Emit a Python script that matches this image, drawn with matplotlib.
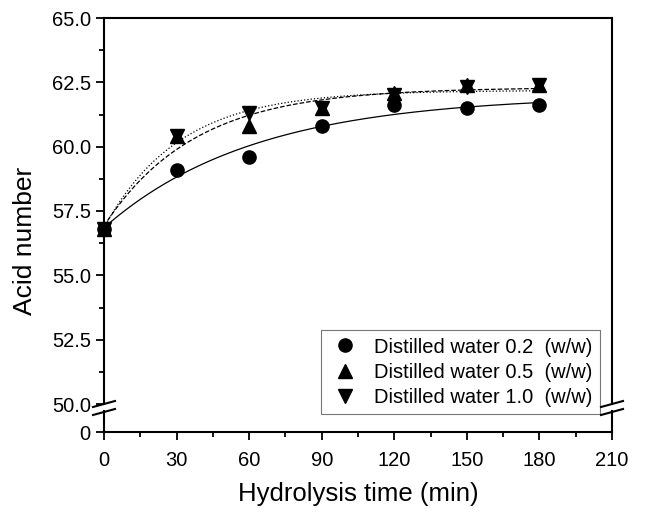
import numpy as np
import matplotlib
matplotlib.use('Agg')
from matplotlib import pyplot as plt
from matplotlib.lines import Line2D
from matplotlib.ticker import MultipleLocator

plt.rcParams['font.family'] = ['Liberation Sans', 'DejaVu Sans']

# data
time_min = [0, 30, 60, 90, 120, 150, 180]
water_02 = [56.8, 59.1, 59.6, 60.8, 61.6, 61.5, 61.6]
water_05 = [56.8, 60.4, 60.8, 61.5, 62.1, 62.4, 62.4]
water_10 = [56.8, 60.4, 61.3, 61.5, 62.0, 62.3, 62.4]
labels = ['Distilled water 0.2  (w/w)', 'Distilled water 0.5  (w/w)',
          'Distilled water 1.0  (w/w)']


def fit_curve(t, y):
    # first-order fit y = a - b*exp(-k t), k by grid search
    t = np.asarray(t, float)
    y = np.asarray(y, float)
    best = None
    for k in np.linspace(0.002, 0.2, 1000):
        A = np.column_stack([np.ones_like(t), -np.exp(-k * t)])
        coef, res, _, _ = np.linalg.lstsq(A, y, rcond=None)
        err = np.sum((A @ coef - y) ** 2)
        if best is None or err < best[0]:
            best = (err, coef, k)
    _, (a, b), k = best
    tt = np.linspace(0, 180, 300)
    return tt, a - b * np.exp(-k * tt)


fig = plt.figure(figsize=(6.45, 5.12), dpi=100)
left, width = 104 / 645, 508 / 645
ax = fig.add_axes([left, 1 - 404 / 512, width, 386 / 512])
axb = fig.add_axes([left, 1 - 432 / 512, width, 21 / 512], sharex=ax)

series = [(water_02, 'o', '-'), (water_05, '^', '--'), (water_10, 'v', ':')]
for (vals, mk, ls), lab in zip(series, labels):
    tt, yy = fit_curve(time_min, vals)
    ax.plot(tt, yy, color='black', linestyle=ls, linewidth=0.9, clip_on=False)
for (vals, mk, ls), lab in zip(series, labels):
    ax.plot(time_min, vals, linestyle='none', marker=mk, markersize=9.5,
            color='black', label=lab, clip_on=False, zorder=5)

ax.set_xlim(0, 210)
ax.set_ylim(50, 65)
ax.yaxis.set_major_locator(MultipleLocator(2.5))
ax.yaxis.set_minor_locator(MultipleLocator(1.25))
ax.yaxis.set_major_formatter(matplotlib.ticker.FormatStrFormatter('%.1f'))
ax.spines['bottom'].set_visible(False)
ax.tick_params(axis='x', which='both', bottom=False, labelbottom=False)
ax.tick_params(axis='y', which='major', length=6, width=1.3, labelsize=14.5)
ax.tick_params(axis='y', which='minor', length=3.5, width=1.3)

axb.set_ylim(0, 1)
axb.set_yticks([0])
axb.spines['top'].set_visible(False)
axb.xaxis.set_major_locator(MultipleLocator(30))
axb.xaxis.set_minor_locator(MultipleLocator(15))
axb.tick_params(axis='x', which='major', length=6, width=1.3, labelsize=14.5, pad=8)
axb.tick_params(axis='x', which='minor', length=3.5, width=1.3)
axb.tick_params(axis='y', length=6, width=1.3, labelsize=14.5)
for a in (ax, axb):
    for s in a.spines.values():
        s.set_linewidth(1.5)
    a.patch.set_alpha(0)

# break marks
for xc in (104, 612):
    for yc in (404, 412):
        x0, x1 = (xc - 11) / 645, (xc + 11) / 645
        y0, y1 = 1 - (yc + 3) / 512, 1 - (yc - 3) / 512
        fig.add_artist(Line2D([x0, x1], [y0, y1], color='black', linewidth=1.5))

axb.set_xlabel('Hydrolysis time (min)', fontsize=18.5, labelpad=8)
fig.text(0.038, 1 - 241 / 512, 'Acid number', rotation=90,
         fontsize=19, ha='center', va='center')

leg = ax.legend(loc='lower right', bbox_to_anchor=(0.976, -0.025), fontsize=14.5,
                frameon=True, fancybox=False, edgecolor='#555555',
                handletextpad=0.6, borderpad=0.35, labelspacing=0.3,
                handlelength=1.7, borderaxespad=0)
leg.get_frame().set_linewidth(0.8)

plt.savefig('out.png', dpi=100)
